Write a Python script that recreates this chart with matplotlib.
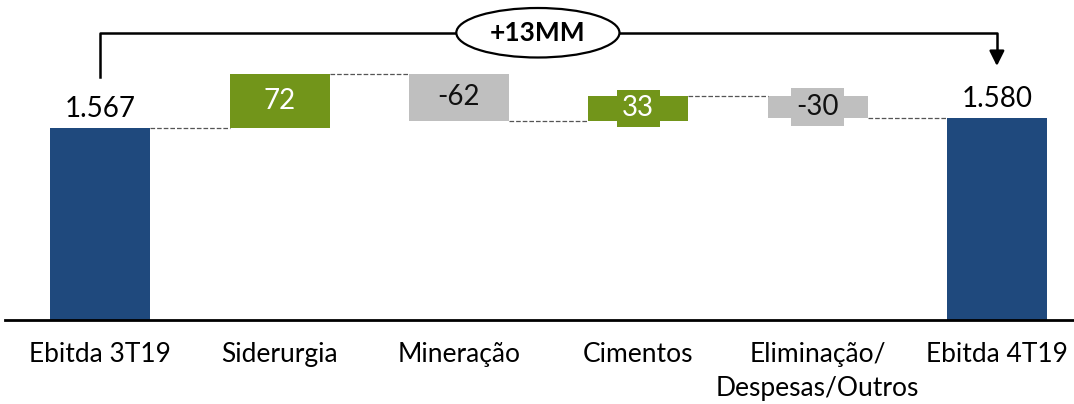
import matplotlib.pyplot as plt
from matplotlib.patches import Ellipse

categories = ["Ebitda 3T19", "Siderurgia", "Mineração", "Cimentos",
              "Eliminação/\nDespesas/Outros", "Ebitda 4T19"]
start_value = 1567
deltas = [72, -62, 33, -30]
end_value = 1580
total_label = "+13MM"

blue = "#1F497D"
green = "#72951A"
gray = "#BFBFBF"

plt.rcParams["font.family"] = ["Lato", "DejaVu Sans"]

fig = plt.figure(figsize=(10.74, 4.04), dpi=100)
ax = fig.add_axes([0.005, 84 / 404, 0.995, 320 / 404])
y0 = 1311
ax.set_ylim(y0, y0 + 320 / 0.75)
ax.set_xlim(-0.53, 5.43)
w = 0.557

def fmt(v):
    return f"{v:,}".replace(",", ".")

# first total
ax.bar(0, start_value - y0, bottom=y0, width=w, color=blue)
ax.text(0, start_value + 8, fmt(start_value), ha="center", va="bottom", fontsize=20)

level = start_value
for i, d in enumerate(deltas, start=1):
    lo, hi = min(level, level + d), max(level, level + d)
    col = green if d > 0 else gray
    ax.bar(i, hi - lo, bottom=lo, width=w, color=col)
    # connector from previous bar
    ax.plot([i - 1 + w / 2, i - w / 2], [level, level], ls="--", lw=0.9, color="#555555")
    small = (hi - lo) < 40
    bbox = dict(boxstyle="square,pad=0.2", fc=col, ec="none") if small else None
    ax.text(i, (lo + hi) / 2, f"{d}", ha="center", va="center", fontsize=20,
            color="white" if d > 0 else "#111111", bbox=bbox)
    level += d

n = len(categories) - 1
ax.plot([n - 1 + w / 2, n - w / 2], [level, level], ls="--", lw=0.9, color="#555555")
ax.bar(n, end_value - y0, bottom=y0, width=w, color=blue)
ax.text(n, end_value + 8, fmt(end_value), ha="center", va="bottom", fontsize=20)

# bracket with arrow
top = 1694
ax.plot([0, 0, n, n], [1635, top, top, 1660], color="black", lw=1.8, clip_on=False)
ax.annotate("", xy=(n, 1646), xytext=(n, 1662),
            arrowprops=dict(arrowstyle="-|>,head_width=0.45,head_length=0.9",
                            color="black", lw=1.8), annotation_clip=False)
ax.add_patch(Ellipse((2.44, top), 0.91, 66, fc="white", ec="black", lw=1.6,
                     clip_on=False, zorder=5))
ax.text(2.44, top, total_label, ha="center", va="center", fontsize=19,
        fontweight="bold", zorder=6)

ax.set_xticks(range(len(categories)))
ax.set_xticklabels(categories, fontsize=19, linespacing=1.45)
ax.tick_params(axis="x", length=0, pad=16)
ax.set_yticks([])
for s in ["top", "right", "left"]:
    ax.spines[s].set_visible(False)
ax.spines["bottom"].set_linewidth(2)

fig.savefig("out.png", dpi=100)
